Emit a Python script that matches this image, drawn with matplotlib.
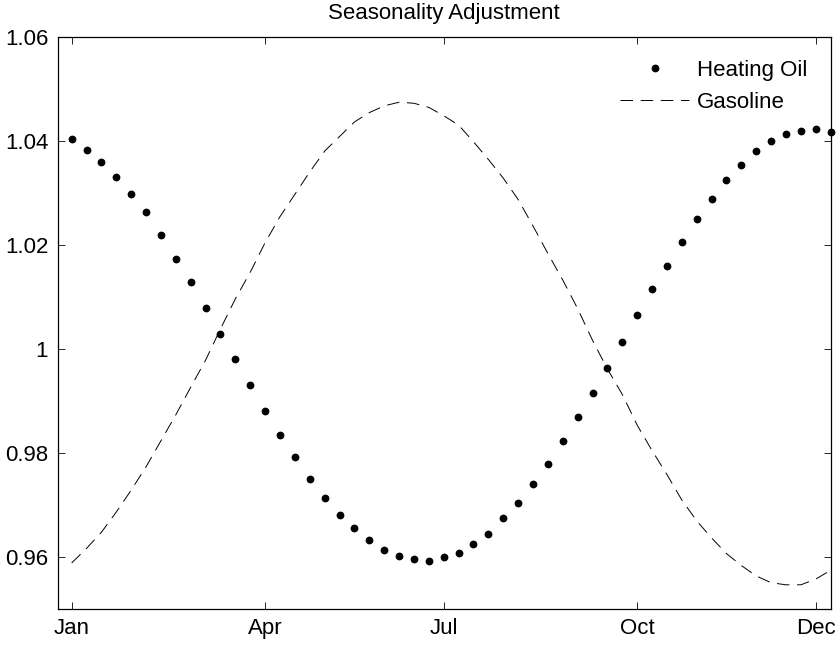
import matplotlib
matplotlib.use('Agg')
import matplotlib.pyplot as plt

plt.rcParams['font.family'] = ['Liberation Sans', 'DejaVu Sans']
plt.rcParams['font.size'] = 16
plt.rcParams['lines.scale_dashes'] = False

# weekly seasonal factors (week 1..52)
weeks = list(range(1, 53))
heating_oil = [1.0403, 1.0383, 1.0360, 1.0330, 1.0297, 1.0262, 1.0219, 1.0173, 1.0128, 1.0078,
               1.0028, 0.9980, 0.9930, 0.9881, 0.9835, 0.9792, 0.9749, 0.9713, 0.9681, 0.9655,
               0.9632, 0.9612, 0.9602, 0.9596, 0.9592, 0.9599, 0.9608, 0.9625, 0.9644, 0.9674,
               0.9704, 0.9740, 0.9779, 0.9822, 0.9868, 0.9914, 0.9963, 1.0012, 1.0065, 1.0114,
               1.0160, 1.0206, 1.0249, 1.0288, 1.0324, 1.0353, 1.0380, 1.0399, 1.0413, 1.0419,
               1.0422, 1.0416]
gasoline = [0.9588, 0.9616, 0.9647, 0.9686, 0.9728, 0.9773, 0.9823, 0.9873, 0.9926, 0.9978,
            1.0038, 1.0096, 1.0147, 1.0204, 1.0254, 1.0297, 1.0340, 1.0380, 1.0408, 1.0436,
            1.0454, 1.0467, 1.0474, 1.0472, 1.0464, 1.0448, 1.0430, 1.0398, 1.0364, 1.0328,
            1.0287, 1.0236, 1.0183, 1.0132, 1.0077, 1.0016, 0.9961, 0.9912, 0.9853, 0.9804,
            0.9758, 0.9709, 0.9669, 0.9636, 0.9606, 0.9583, 0.9563, 0.9550, 0.9546, 0.9546,
            0.9557, 0.9574]

xtick_weeks = [1, 14, 26, 39, 51]
xtick_labels = ['Jan', 'Apr', 'Jul', 'Oct', 'Dec']
yticks = [0.96, 0.98, 1.00, 1.02, 1.04, 1.06]
ytick_labels = ['0.96', '0.98', '1', '1.02', '1.04', '1.06']

fig = plt.figure(figsize=(8.4, 6.46), dpi=100)
ax = fig.add_axes([0.069, 0.0577, 0.9199, 0.8855])

ax.plot(weeks, heating_oil, linestyle='none', marker='o', markersize=4.6,
        color='black', label='Heating Oil', clip_on=False)
ax.plot(weeks, gasoline, linestyle=(0, (9, 5.5)), linewidth=0.7,
        color='black', label='Gasoline')

ax.set_xlim(0.08, 52)
ax.set_ylim(0.95, 1.06)
ax.set_xticks(xtick_weeks)
ax.set_xticklabels(xtick_labels)
ax.set_yticks(yticks)
ax.set_yticklabels(ytick_labels)
ax.tick_params(direction='in', length=5, width=0.6, top=True, right=True, pad=7)
for s in ax.spines.values():
    s.set_linewidth(0.9)

ax.set_title('Seasonality Adjustment', fontsize=16, pad=13)

leg = ax.legend(loc='upper right', frameon=False, bbox_to_anchor=(0.970, 0.959),
                borderaxespad=0, borderpad=0, handlelength=3.1,
                handletextpad=0.35, labelspacing=0.5, numpoints=1)

fig.savefig('out.png', dpi=100)
